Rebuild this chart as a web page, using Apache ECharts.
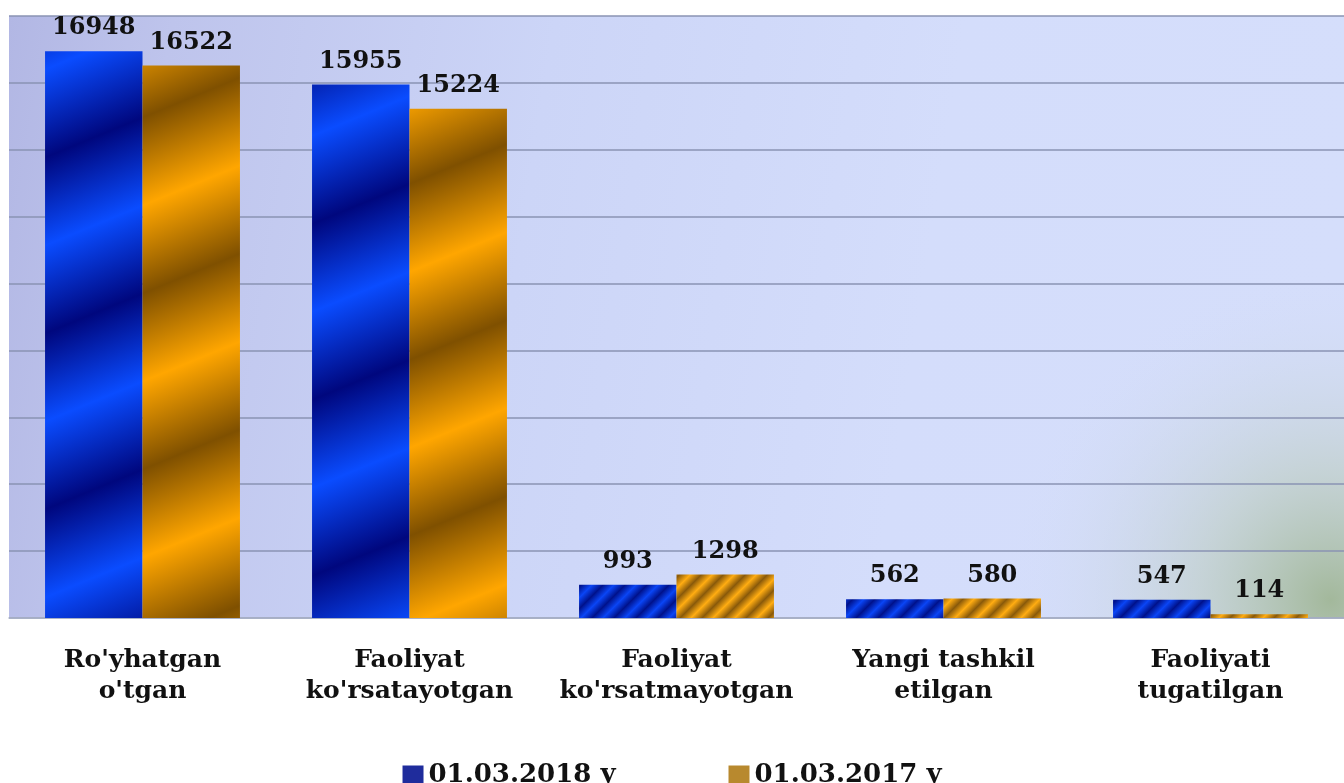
<!DOCTYPE html>
<html>
<head>
<meta charset="utf-8">
<title>Chart</title>
<script src="https://cdn.jsdelivr.net/npm/echarts@6/dist/echarts.min.js"></script>
<style>
    html, body { margin: 0; padding: 0; background: #fff; }
    #chart { width: 1344px; height: 783px; }
</style>
</head>
<body>
<div id="chart"></div>
<script>
// data
var categories = ["Ro'yhatgan\no'tgan", "Faoliyat\nko'rsatayotgan", "Faoliyat\nko'rsatmayotgan", "Yangi tashkil\netilgan", "Faoliyati\ntugatilgan"];
var seriesNames = ['01.03.2018 y', '01.03.2017 y'];
var data2018 = [16948, 15955, 993, 562, 547];
var data2017 = [16522, 15224, 1298, 580, 114];
var yMin = 0, yMax = 18000, yStep = 2000;

var chart = echarts.init(document.getElementById('chart'));

// slanted glossy bands used as bar fill (period = vertical repeat, slope = rise per px)
function bands(dark, bright, period, slope) {
    var w = Math.round(period / slope);
    var k = period / w;
    var c = document.createElement('canvas');
    c.width = w;
    c.height = period;
    var ctx = c.getContext('2d');
    // k*x + y runs from 0 to 2*period over the tile -> two full cycles
    var len = 2 * period / (k * k + 1);
    var g = ctx.createLinearGradient(0, 0, k * len, len);
    g.addColorStop(0, dark);
    g.addColorStop(0.25, bright);
    g.addColorStop(0.5, dark);
    g.addColorStop(0.75, bright);
    g.addColorStop(1, dark);
    ctx.fillStyle = g;
    ctx.fillRect(0, 0, w, period);
    return { image: c, repeat: 'repeat' };
}

var blueBig = bands('#00077e', '#0a4cff', 176, 0.41);
var blueSmall = bands('#00128c', '#0a45f5', 22, 1);
var orangeBig = bands('#7f5000', '#ffa600', 176, 0.41);
var orangeSmall = bands('#8a5a0a', '#ffac12', 22, 1);

function styled(values, big, small) {
    return values.map(function (v) {
        return { value: v, itemStyle: { color: v > 5000 ? big : small } };
    });
}

var labelFont = {
    show: true,
    position: 'top',
    distance: 11,
    color: '#111',
    fontFamily: 'DejaVu Serif',
    fontWeight: 'bold',
    fontSize: 24
};

option = {
    backgroundColor: '#fff',
    animation: false,
    grid: [
        {
            left: 9,
            right: -9,
            top: 16,
            bottom: 165,
            show: true,
            borderWidth: 0,
            backgroundColor: new echarts.graphic.LinearGradient(0, 0, 1, 0.35, [
                { offset: 0, color: '#b2b7e4' },
                { offset: 0.12, color: '#bec4ec' },
                { offset: 0.4, color: '#ccd5f7' },
                { offset: 0.7, color: '#d4ddfb' },
                { offset: 1, color: '#d5defb' }
            ])
        },
        {
            // greenish glow in the lower right corner
            left: 9,
            right: -9,
            top: 16,
            bottom: 165,
            show: true,
            z: 1,
            borderWidth: 0,
            backgroundColor: new echarts.graphic.RadialGradient(0.99, 0.97, 0.55, [
                { offset: 0, color: 'rgba(160,182,150,0.95)' },
                { offset: 0.4, color: 'rgba(188,204,192,0.6)' },
                { offset: 1, color: 'rgba(213,222,251,0)' }
            ])
        }
    ],
    legend: {
        data: [
            { name: seriesNames[0], icon: 'rect', itemStyle: { color: '#1f2c9c' } },
            { name: seriesNames[1], icon: 'rect', itemStyle: { color: '#b8892e' } }
        ],
        left: 'center',
        top: 757,
        itemWidth: 21,
        itemHeight: 19,
        itemGap: 113,
        textStyle: {
            color: '#111',
            fontFamily: 'DejaVu Serif',
            fontWeight: 'bold',
            fontSize: 26
        }
    },
    xAxis: [
        {
            type: 'category',
            data: categories,
            z: 3,
            axisLine: { show: true, lineStyle: { color: '#aab3c6', width: 1.5 } },
            axisTick: { show: false },
            axisLabel: {
                margin: 27,
                color: '#111',
                fontFamily: 'DejaVu Serif',
                fontWeight: 'bold',
                fontSize: 25,
                lineHeight: 31,
                interval: 0
            }
        },
        { type: 'category', gridIndex: 1, show: false, data: categories }
    ],
    yAxis: [
        {
            type: 'value',
            min: yMin,
            max: yMax,
            interval: yStep,
            z: 3,
            axisLine: { show: false },
            axisTick: { show: false },
            axisLabel: { show: false },
            splitLine: { lineStyle: { color: '#8a93b3', width: 1.5 } }
        },
        { type: 'value', gridIndex: 1, show: false, min: yMin, max: yMax, splitLine: { show: false } }
    ],
    series: [
        {
            name: seriesNames[0],
            type: 'bar',
            z: 4,
            barGap: '0%',
            barCategoryGap: '27%',
            itemStyle: { color: '#1f2c9c' },
            label: labelFont,
            data: styled(data2018, blueBig, blueSmall)
        },
        {
            name: seriesNames[1],
            type: 'bar',
            z: 4,
            barGap: '0%',
            barCategoryGap: '27%',
            itemStyle: { color: '#b8892e' },
            label: labelFont,
            data: styled(data2017, orangeBig, orangeSmall)
        }
    ]
};
chart.setOption(option);

window.addEventListener('resize', function () {
    chart.resize();
});
</script>
</body>
</html>
